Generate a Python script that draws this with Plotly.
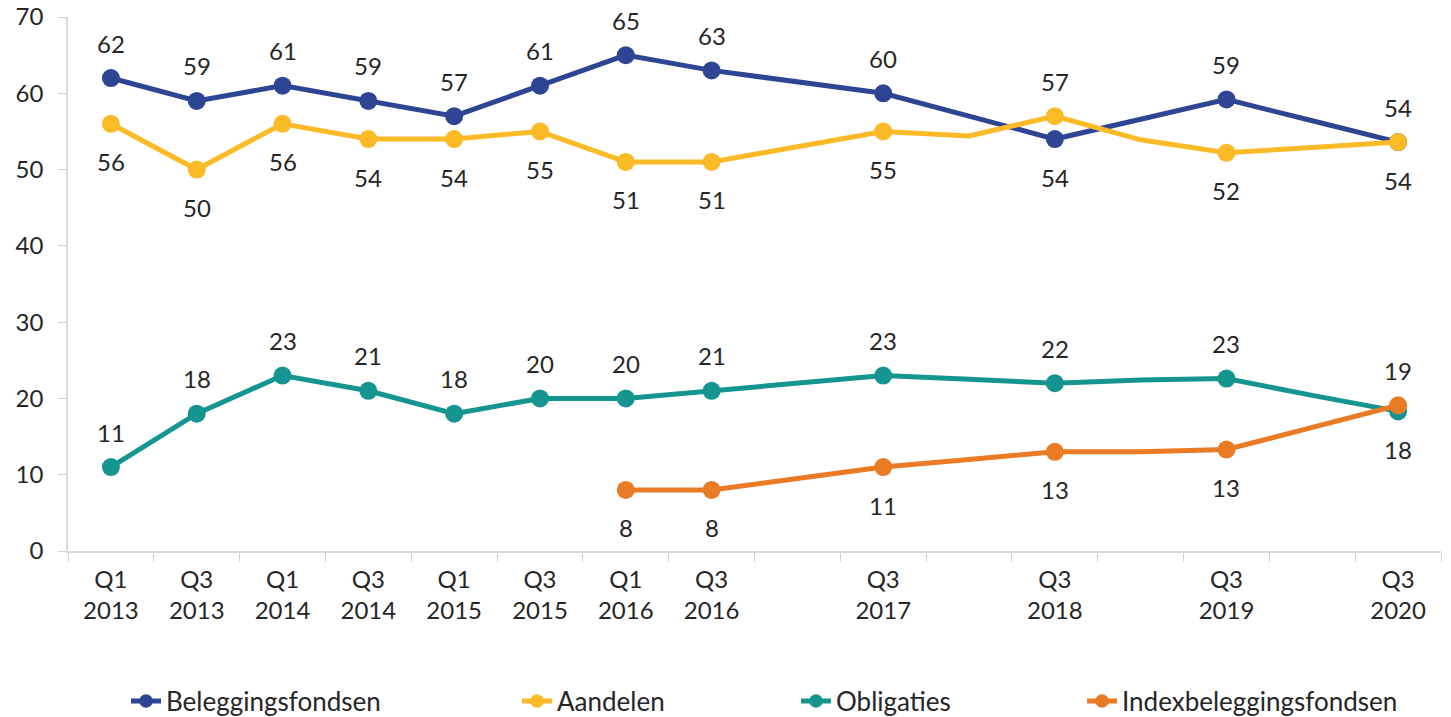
import plotly.graph_objects as go

periods = ["Q1 2013", "Q3 2013", "Q1 2014", "Q3 2014", "Q1 2015", "Q3 2015",
           "Q1 2016", "Q3 2016", "Q1 2017", "Q3 2017", "Q1 2018", "Q3 2018",
           "Q1 2019", "Q3 2019", "Q1 2020", "Q3 2020"]
tick_labels = ["Q1<br>2013", "Q3<br>2013", "Q1<br>2014", "Q3<br>2014", "Q1<br>2015",
               "Q3<br>2015", "Q1<br>2016", "Q3<br>2016", "", "Q3<br>2017", "",
               "Q3<br>2018", "", "Q3<br>2019", "", "Q3<br>2020"]
surveyed = [True, True, True, True, True, True, True, True,
            False, True, False, True, False, True, False, True]

beleggingsfondsen = [62, 59, 61, 59, 57, 61, 65, 63, 61.5, 60, 57, 54, 56.6, 59.2, 56.4, 53.6]
aandelen = [56, 50, 56, 54, 54, 55, 51, 51, 53, 55, 54.4, 57, 53.9, 52.2, 52.9, 53.6]
obligaties = [11, 18, 23, 21, 18, 20, 20, 21, 22, 23, 22.5, 22, 22.4, 22.6, 20.4, 18.3]
indexbeleggingsfondsen = [None, None, None, None, None, None,
                          8, 8, 9.5, 11, 12, 13, 13, 13.3, 16.2, 19.1]

# label placement per point: +1 above, -1 below
pos_bel = [1] * 11 + [-1] + [1] * 4
pos_aan = [-1] * 11 + [1] + [-1] * 4
pos_obl = [1] * 15 + [-1]
pos_idx = [-1] * 15 + [1]

W, H = 1451, 717
legend_text_px = [167, 558, 837, 1123]

series = [
    ("Beleggingsfondsen", beleggingsfondsen, "#2E4593", pos_bel, "legend"),
    ("Aandelen", aandelen, "#FBBA26", pos_aan, "legend2"),
    ("Obligaties", obligaties, "#159590", pos_obl, "legend3"),
    ("Indexbeleggingsfondsen", indexbeleggingsfondsen, "#EA7A24", pos_idx, "legend4"),
]

FONT = "Lato, 'Open Sans', sans-serif"
TXT = "#262626"

fig = go.Figure()
annotations = []
legends = {}
for (name, vals, color, pos, leg), tx in zip(series, legend_text_px):
    sizes = [18 if s else 0 for s in surveyed]
    fig.add_trace(go.Scatter(
        x=periods, y=vals, name=name, mode="lines+markers",
        line=dict(color=color, width=5),
        marker=dict(color=color, size=sizes, opacity=1, line=dict(width=0)),
        legend=leg, connectgaps=False,
    ))
    legends[leg] = dict(
        orientation="h", xref="container", yref="container",
        x=(tx - 41) / W, y=(H - 701) / H, xanchor="left", yanchor="middle",
        font=dict(family=FONT, size=26, color=TXT), bgcolor="rgba(0,0,0,0)",
    )
    for p, v, s, d in zip(periods, vals, surveyed, pos):
        if v is None or not s:
            continue
        annotations.append(dict(
            x=p, y=v, text=f"{v:.0f}", showarrow=False,
            xref="x", yref="y", yanchor="middle",
            yshift=35 if d > 0 else -38,
            font=dict(family=FONT, size=24, color=TXT),
        ))

fig.update_layout(
    width=W, height=H,
    margin=dict(l=68, r=10, t=17, b=166),
    paper_bgcolor="white", plot_bgcolor="white",
    font=dict(family=FONT, size=23, color=TXT),
    showlegend=True,
    annotations=annotations,
    xaxis=dict(
        type="category", categoryorder="array", categoryarray=periods,
        tickmode="array", tickvals=periods, ticktext=tick_labels,
        tickson="boundaries", ticks="outside", ticklen=9, tickcolor="#D0D0D0",
        showline=True, linecolor="#D9D9D9", linewidth=1.5,
        showgrid=False, zeroline=False, automargin=False,
        tickfont=dict(family=FONT, size=24, color=TXT),
        ticklabelstandoff=6,
        range=[-0.5, 15.5],
    ),
    yaxis=dict(
        range=[0, 70], dtick=10, tick0=0,
        ticks="outside", ticklen=8, tickcolor="#D0D0D0",
        showline=True, linecolor="#D9D9D9", linewidth=1.5,
        showgrid=False, zeroline=False, automargin=False,
        tickfont=dict(family=FONT, size=24, color=TXT),
        ticklabelstandoff=10,
    ),
    **legends,
)

fig.write_html("out.html", config={"displayModeBar": False},
               post_script="document.body.style.margin='0px';")
